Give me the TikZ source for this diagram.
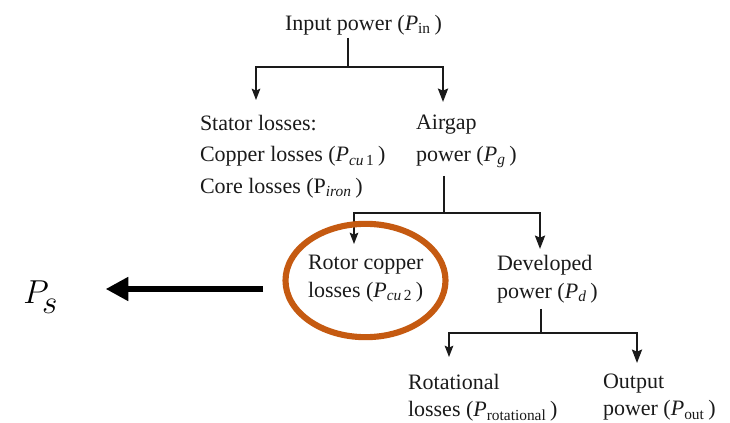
\documentclass[tikz,border=0pt]{standalone}
\usepackage{fontspec}
\setmainfont{Liberation Serif}
\usetikzlibrary{arrows.meta}
\definecolor{ringc}{HTML}{C55A11}
\definecolor{inkc}{HTML}{1A1A1A}
\newcommand{\sub}[1]{\textsubscript{#1}}
\begin{document}
\begin{tikzpicture}[x=0.75pt,y=-0.75pt,
  lbl/.style={anchor=north west,inner sep=0pt,outer sep=0pt,align=left,text=inkc,
              font=\fontsize{16.5}{23.6}\selectfont},
  lblB/.style={lbl,font=\fontsize{16.5}{21}\selectfont},
  lblC/.style={lbl,font=\fontsize{16.5}{20.5}\selectfont},
  thinbranch/.style={draw=inkc,line width=1pt,-{Stealth[length=8.5pt,width=6.5pt,inset=1.5pt]}},
  thickbranch/.style={draw=inkc,line width=1.8pt,-{Stealth[length=10pt,width=7.5pt,inset=1.5pt]}},
  trunkline/.style={draw=inkc,line width=1.7pt},
  ring/.style={draw=ringc,line width=4.6pt},
  bigarrow/.style={draw=black,line width=4.6pt,-{Triangle[length=17pt,width=17pt]}}
]
\useasboundingbox (0,0) rectangle (730,423);

% text blocks
\node[lbl] (in) at (285,15) {Input power (\textit{P}\sub{in}\,)};
\node[lbl] (stator) at (200,115) {Stator losses:\\Copper losses (\textit{P}\sub{\textit{cu}\,1}\,)\\Core losses (P\sub{\textit{iron}}\,)};
\node[lbl] (airgap) at (416,115) {Airgap\\power (\textit{P}\sub{\textit{g}}\,)};
\node[lblB] (rotor) at (308,255) {Rotor copper\\losses (\textit{P}\sub{\textit{cu}\,2}\,)};
\node[lblB] (dev) at (497,255) {Developed\\power (\textit{P}\sub{\textit{d}}\,)};
\node[lblC] (rot) at (408,374) {Rotational\\losses (\textit{P}\sub{rotational}\,)};
\node[lblC] (out) at (603,374) {Output\\power (\textit{P}\sub{out}\,)};
\node[anchor=base west,inner sep=0pt] (ps) at (23,304)
  {\fontsize{34}{34}\selectfont$P$\kern-5pt\raisebox{-7.5pt}{\fontsize{25}{25}\selectfont$s$}};

% junctions and arrow ends
\coordinate (j1) at (348,67);
\coordinate (sL) at (256,100);
\coordinate (sR) at (443,102);
\coordinate (j2) at (444,213);
\coordinate (rL) at (354,244);
\coordinate (rR) at (540,249);
\coordinate (j3) at (541,333);
\coordinate (oL) at (449,357);
\coordinate (oR) at (637,363);
\coordinate (astart) at (263,289);

% connectors
\draw[trunkline] (in.south -| j1) ++(0,3) -- (j1);
\draw[thinbranch] (j1) -| (sL);
\draw[thickbranch] (j1) -| (sR);
\draw[trunkline] (airgap.south -| j2) ++(0,8) -- (j2);
\draw[thinbranch] (j2) -| (rL);
\draw[thickbranch] (j2) -| (rR);
\draw[trunkline] (dev.south -| j3) ++(0,6) -- (j3);
\draw[thinbranch] (j3) -| (oL);
\draw[thickbranch] (j3) -| (oR);

% highlight ring and big arrow
\draw[ring] (365.5,280.5) ellipse [x radius=60pt, y radius=42.5pt];
\draw[bigarrow] (astart) -- (ps.east |- astart) [shorten >=36pt];
\end{tikzpicture}
\end{document}
